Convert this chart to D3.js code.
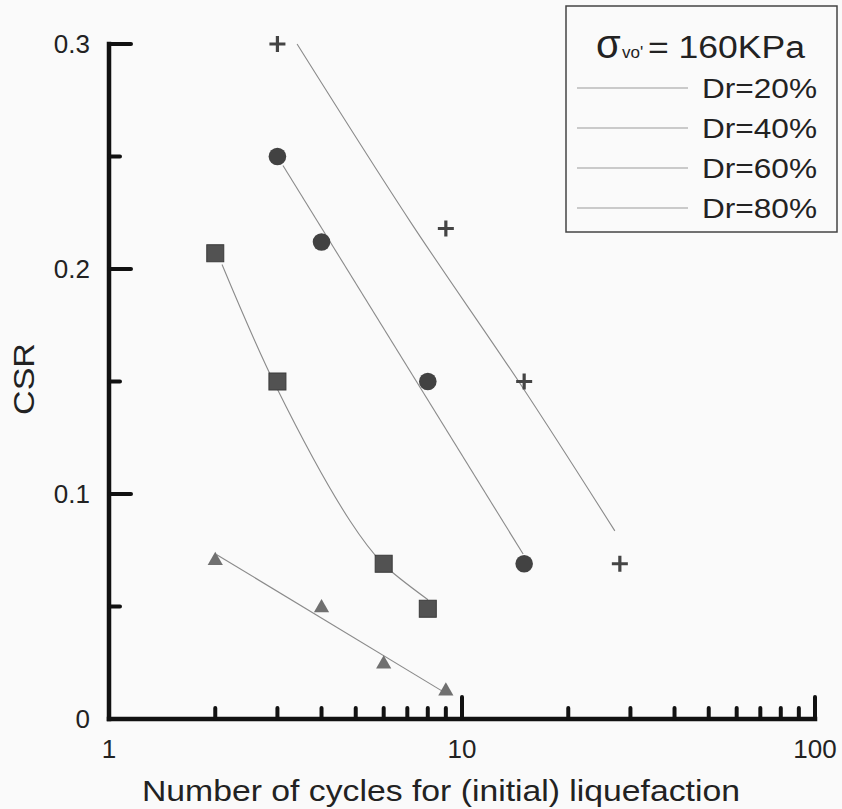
<!DOCTYPE html>
<html>
<head>
<meta charset="utf-8">
<script src="https://cdn.jsdelivr.net/npm/d3@7"></script>
<style>
  html, body { margin: 0; padding: 0; background: #fafafa; }
  svg { display: block; font-family: "Liberation Sans", Arial, sans-serif; }
</style>
</head>
<body>
<svg id="chart" width="842" height="809"></svg>
<script>
// ---- data ----
const seriesNames = ["Dr=20%", "Dr=40%", "Dr=60%", "Dr=80%"];
const dr20Points = [[2.0, 0.070], [4.0, 0.049], [6.0, 0.024], [9.0, 0.012]];
const dr40Points = [[2.0, 0.207], [3.0, 0.150], [6.0, 0.069], [8.0, 0.049]];
const dr60Points = [[3.0, 0.250], [4.0, 0.212], [8.0, 0.150], [15.0, 0.069]];
const dr80Points = [[3.0, 0.300], [9.0, 0.218], [15.0, 0.150], [28.0, 0.069]];
// fitted curves as drawn in the figure
const dr20Fit = [[2.02, 0.073], [8.96, 0.0116]];
const dr40Fit = [[2.09, 0.202], [2.99, 0.147], [4.82, 0.088], [5.97, 0.069], [8.01, 0.053]];
const dr60Fit = [[3.11, 0.246], [14.9, 0.0733]];
const dr80Fit = [[3.41, 0.300], [7.12, 0.2213], [14.9, 0.147], [27.1, 0.0836]];
const yMajorTicks = [0, 0.1, 0.2, 0.3];
const yTickLabels = ["0", "0.1", "0.2", "0.3"];
const yMinorTicks = [0.05, 0.15, 0.25];
const xMajorTicks = [1, 10, 100];
const xTickLabels = ["1", "10", "100"];
const xMinorTicks = [2, 3, 4, 5, 6, 7, 8, 9, 20, 30, 40, 50, 60, 70, 80, 90];

const svg = d3.select("#chart");
const x = d3.scaleLog().domain([1, 100]).range([109, 815]);
const y = d3.scaleLinear().domain([0, 0.3]).range([719, 44]);

// ---- fitted lines ----
const line = d3.line().x(d => x(d[0])).y(d => y(d[1])).curve(d3.curveCatmullRom.alpha(0.5));
[dr20Fit, dr40Fit, dr60Fit, dr80Fit].forEach(f => {
  svg.append("path").attr("d", line(f)).attr("fill", "none")
    .attr("stroke", "#8a8a8a").attr("stroke-width", 1.1);
});

// ---- markers ----
const gm = svg.append("g");
gm.selectAll(".tri").data(dr20Points).join("path")
  .attr("d", d3.symbol().type(d3.symbolTriangle).size(100))
  .attr("transform", d => `translate(${x(d[0])},${y(d[1]) - 1})`)
  .attr("fill", "#707070");
gm.selectAll(".sq").data(dr40Points).join("rect")
  .attr("x", d => x(d[0]) - 8.5).attr("y", d => y(d[1]) - 8.5)
  .attr("width", 17).attr("height", 17)
  .attr("fill", "#525252").attr("stroke", "#3a3a3a").attr("stroke-width", 1);
gm.selectAll(".ci").data(dr60Points).join("circle")
  .attr("cx", d => x(d[0])).attr("cy", d => y(d[1])).attr("r", 8.8)
  .attr("fill", "#424242");
gm.selectAll(".pl").data(dr80Points).join("path")
  .attr("d", "M-8,0H8M0,-8V8")
  .attr("transform", d => `translate(${x(d[0])},${y(d[1])})`)
  .attr("stroke", "#444").attr("stroke-width", 3.2).attr("fill", "none");

// ---- axes ----
const ax = svg.append("g").attr("stroke", "#111").attr("stroke-linecap", "round");
ax.append("line").attr("x1", x(1)).attr("x2", x(1)).attr("y1", y(0.3)).attr("y2", y(0))
  .attr("stroke-width", 4.5).attr("stroke-linecap", "square");
ax.append("line").attr("x1", x(1)).attr("x2", x(100)).attr("y1", y(0)).attr("y2", y(0))
  .attr("stroke-width", 4.5).attr("stroke-linecap", "square");
ax.selectAll(".ymaj").data(yMajorTicks.filter(d => d > 0)).join("line")
  .attr("x1", x(1)).attr("x2", x(1) + 22).attr("y1", d => y(d)).attr("y2", d => y(d))
  .attr("stroke-width", 4);
ax.selectAll(".ymin").data(yMinorTicks).join("line")
  .attr("x1", x(1)).attr("x2", x(1) + 11).attr("y1", d => y(d)).attr("y2", d => y(d))
  .attr("stroke-width", 4);
ax.selectAll(".xmaj").data(xMajorTicks.filter(d => d > 1)).join("line")
  .attr("x1", d => x(d)).attr("x2", d => x(d)).attr("y1", y(0)).attr("y2", y(0) - 22)
  .attr("stroke-width", 4);
ax.selectAll(".xmin").data(xMinorTicks).join("line")
  .attr("x1", d => x(d)).attr("x2", d => x(d)).attr("y1", y(0)).attr("y2", y(0) - 11)
  .attr("stroke-width", 4);

// tick labels
svg.selectAll(".ylab").data(yMajorTicks).join("text")
  .attr("x", 90).attr("y", d => y(d)).attr("dy", "0.36em")
  .attr("text-anchor", "end").attr("font-size", 26).attr("fill", "#222")
  .text((d, i) => yTickLabels[i]);
svg.selectAll(".xlab").data(xMajorTicks).join("text")
  .attr("x", d => x(d)).attr("y", 758)
  .attr("text-anchor", "middle").attr("font-size", 26).attr("fill", "#222")
  .text((d, i) => xTickLabels[i]);

// axis titles
svg.append("text").attr("transform", "translate(34,379) rotate(-90)")
  .attr("text-anchor", "middle").attr("font-size", 30).attr("fill", "#222")
  .attr("textLength", 72).attr("lengthAdjust", "spacingAndGlyphs").text("CSR");
svg.append("text").attr("x", 441).attr("y", 801)
  .attr("text-anchor", "middle").attr("font-size", 30).attr("fill", "#222")
  .attr("textLength", 598).attr("lengthAdjust", "spacingAndGlyphs")
  .text("Number of cycles for (initial) liquefaction");

// ---- legend ----
const lg = svg.append("g");
lg.append("rect").attr("x", 566).attr("y", 6).attr("width", 271).attr("height", 226)
  .attr("fill", "#fafafa").attr("stroke", "#444").attr("stroke-width", 1.5);
lg.append("text").attr("x", 596).attr("y", 58).attr("font-size", 40).attr("fill", "#222").text("σ");
lg.append("text").attr("x", 622).attr("y", 58).attr("font-size", 17).attr("fill", "#222").text("vo'");
lg.append("text").attr("x", 648).attr("y", 58).attr("font-size", 31).attr("fill", "#222")
  .attr("textLength", 157).attr("lengthAdjust", "spacingAndGlyphs").text("= 160KPa");
lg.selectAll(".lgl").data(seriesNames).join("line")
  .attr("x1", 577).attr("x2", 688)
  .attr("y1", (d, i) => 88 + i * 40).attr("y2", (d, i) => 88 + i * 40)
  .attr("stroke", "#9a9a9a").attr("stroke-width", 1.2);
lg.selectAll(".lgt").data(seriesNames).join("text")
  .attr("x", 702).attr("y", (d, i) => 98 + i * 40)
  .attr("font-size", 27).attr("fill", "#222")
  .attr("textLength", 115).attr("lengthAdjust", "spacingAndGlyphs")
  .text(d => d);
</script>
</body>
</html>
